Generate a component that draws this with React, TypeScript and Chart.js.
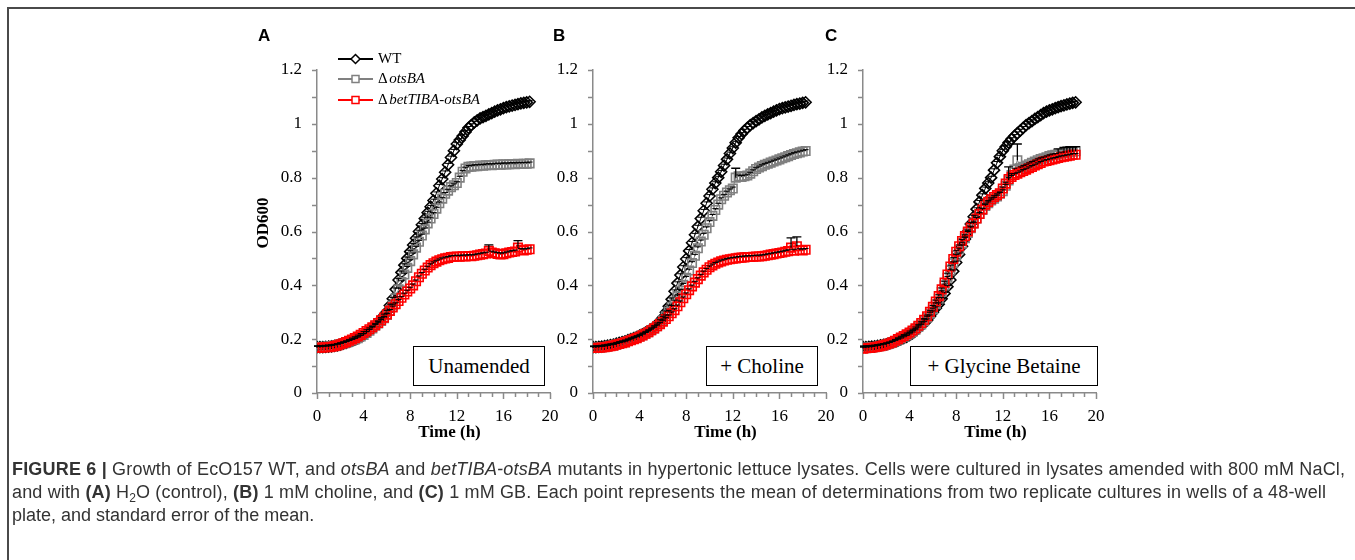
import React, { useEffect, useRef } from 'react';
import { Chart, registerables } from 'chart.js';

Chart.register(...registerables);

// ---------- DATA ----------
const hours = [
  0, 0.25, 0.5, 0.75, 1, 1.25, 1.5, 1.75, 2, 2.25, 2.5, 2.75, 3, 3.25, 3.5, 3.75,
  4, 4.25, 4.5, 4.75, 5, 5.25, 5.5, 5.75, 6, 6.25, 6.5, 6.75, 7, 7.25, 7.5, 7.75,
  8, 8.25, 8.5, 8.75, 9, 9.25, 9.5, 9.75, 10, 10.25, 10.5, 10.75, 11, 11.25, 11.5, 11.75,
  12, 12.25, 12.5, 12.75, 13, 13.25, 13.5, 13.75, 14, 14.25, 14.5, 14.75, 15, 15.25, 15.5, 15.75,
  16, 16.25, 16.5, 16.75, 17, 17.25, 17.5, 17.75, 18, 18.25,
];

const seriesNames = ['WT', 'ΔotsBA', 'ΔbetTIBA-otsBA'];

// Panel A – Unamended
const wtA = [
  0.170, 0.170, 0.170, 0.171, 0.172, 0.173, 0.175, 0.177, 0.180, 0.183, 0.186, 0.190,
  0.194, 0.198, 0.203, 0.209, 0.215, 0.223, 0.232, 0.242, 0.252, 0.263, 0.275, 0.288,
  0.302, 0.325, 0.350, 0.385, 0.420, 0.448, 0.475, 0.500, 0.525, 0.550, 0.575, 0.600,
  0.625, 0.648, 0.670, 0.692, 0.715, 0.742, 0.770, 0.795, 0.820, 0.848, 0.875, 0.900,
  0.925, 0.940, 0.955, 0.970, 0.985, 0.995, 1.005, 1.013, 1.020, 1.025, 1.030, 1.035,
  1.040, 1.045, 1.050, 1.054, 1.058, 1.062, 1.065, 1.068, 1.070, 1.073, 1.076, 1.078,
  1.080, 1.082,
];
const otsA = [
  0.170, 0.170, 0.171, 0.172, 0.173, 0.174, 0.176, 0.178, 0.181, 0.184, 0.187, 0.191,
  0.195, 0.199, 0.204, 0.210, 0.216, 0.223, 0.231, 0.240, 0.250, 0.258, 0.268, 0.278,
  0.290, 0.305, 0.325, 0.352, 0.385, 0.412, 0.440, 0.465, 0.490, 0.515, 0.540, 0.562,
  0.585, 0.608, 0.630, 0.648, 0.665, 0.685, 0.705, 0.722, 0.740, 0.752, 0.765, 0.772,
  0.780, 0.800, 0.822, 0.834, 0.840, 0.841, 0.843, 0.843, 0.845, 0.844, 0.846, 0.847,
  0.846, 0.848, 0.849, 0.848, 0.850, 0.849, 0.850, 0.851, 0.850, 0.852, 0.851, 0.852,
  0.852, 0.853,
];
const betA = [
  0.168, 0.168, 0.169, 0.170, 0.170, 0.172, 0.174, 0.177, 0.181, 0.185, 0.189, 0.194,
  0.199, 0.204, 0.210, 0.216, 0.223, 0.230, 0.237, 0.244, 0.252, 0.260, 0.270, 0.280,
  0.292, 0.305, 0.318, 0.330, 0.342, 0.354, 0.366, 0.377, 0.388, 0.400, 0.415, 0.430,
  0.443, 0.455, 0.466, 0.475, 0.482, 0.488, 0.493, 0.497, 0.500, 0.502, 0.505, 0.506,
  0.507, 0.506, 0.508, 0.507, 0.509, 0.508, 0.510, 0.512, 0.514, 0.516, 0.518, 0.528,
  0.522, 0.519, 0.517, 0.515, 0.516, 0.519, 0.522, 0.524, 0.526, 0.540, 0.532, 0.530,
  0.532, 0.534,
];

// Panel B – + Choline
const wtB = [
  0.170, 0.170, 0.171, 0.172, 0.174, 0.176, 0.178, 0.180, 0.183, 0.186, 0.189, 0.192,
  0.196, 0.200, 0.204, 0.208, 0.213, 0.218, 0.224, 0.230, 0.237, 0.245, 0.255, 0.267,
  0.280, 0.300, 0.322, 0.348, 0.378, 0.408, 0.438, 0.468, 0.498, 0.528, 0.558, 0.588,
  0.618, 0.648, 0.677, 0.705, 0.732, 0.757, 0.780, 0.800, 0.822, 0.845, 0.868, 0.890,
  0.910, 0.930, 0.948, 0.962, 0.975, 0.985, 0.995, 1.003, 1.010, 1.017, 1.024, 1.030,
  1.035, 1.040, 1.045, 1.050, 1.055, 1.058, 1.061, 1.064, 1.067, 1.070, 1.073, 1.075,
  1.078, 1.080,
];
const otsB = [
  0.168, 0.168, 0.169, 0.170, 0.171, 0.173, 0.175, 0.177, 0.180, 0.183, 0.186, 0.189,
  0.193, 0.197, 0.201, 0.205, 0.210, 0.215, 0.220, 0.226, 0.233, 0.240, 0.248, 0.258,
  0.270, 0.285, 0.302, 0.320, 0.340, 0.360, 0.380, 0.402, 0.428, 0.455, 0.483, 0.510,
  0.538, 0.563, 0.588, 0.612, 0.635, 0.658, 0.680, 0.700, 0.720, 0.733, 0.745, 0.753,
  0.760, 0.800, 0.805, 0.803, 0.805, 0.808, 0.815, 0.824, 0.832, 0.838, 0.843, 0.848,
  0.852, 0.856, 0.860, 0.864, 0.868, 0.872, 0.876, 0.880, 0.884, 0.888, 0.891, 0.894,
  0.897, 0.899,
];
const betB = [
  0.167, 0.167, 0.168, 0.169, 0.170, 0.172, 0.174, 0.176, 0.179, 0.182, 0.185, 0.188,
  0.192, 0.196, 0.200, 0.204, 0.209, 0.214, 0.220, 0.226, 0.233, 0.240, 0.248, 0.256,
  0.265, 0.275, 0.285, 0.296, 0.308, 0.322, 0.337, 0.352, 0.367, 0.382, 0.396, 0.410,
  0.423, 0.436, 0.448, 0.458, 0.467, 0.474, 0.480, 0.485, 0.489, 0.492, 0.495, 0.497,
  0.499, 0.500, 0.502, 0.503, 0.504, 0.505, 0.505, 0.506, 0.507, 0.507, 0.508, 0.510,
  0.512, 0.514, 0.516, 0.518, 0.520, 0.522, 0.525, 0.527, 0.540, 0.529, 0.545, 0.531,
  0.530, 0.532,
];

// Panel C – + Glycine Betaine
const wtC = [
  0.170, 0.170, 0.171, 0.172, 0.173, 0.175, 0.177, 0.179, 0.181, 0.184, 0.187, 0.191,
  0.195, 0.199, 0.204, 0.209, 0.215, 0.222, 0.230, 0.240, 0.250, 0.260, 0.270, 0.285,
  0.300, 0.315, 0.330, 0.350, 0.370, 0.395, 0.420, 0.452, 0.485, 0.515, 0.545, 0.572,
  0.600, 0.628, 0.655, 0.683, 0.710, 0.735, 0.760, 0.780, 0.800, 0.828, 0.855, 0.878,
  0.900, 0.915, 0.930, 0.943, 0.955, 0.965, 0.975, 0.985, 0.995, 1.003, 1.010, 1.018,
  1.025, 1.032, 1.040, 1.045, 1.050, 1.054, 1.058, 1.062, 1.066, 1.069, 1.072, 1.075,
  1.078, 1.080,
];
const otsC = [
  0.168, 0.168, 0.169, 0.170, 0.171, 0.173, 0.175, 0.177, 0.180, 0.183, 0.187, 0.192,
  0.198, 0.203, 0.209, 0.214, 0.220, 0.227, 0.235, 0.245, 0.255, 0.267, 0.280, 0.295,
  0.310, 0.330, 0.350, 0.375, 0.400, 0.428, 0.455, 0.482, 0.510, 0.533, 0.555, 0.575,
  0.595, 0.612, 0.630, 0.648, 0.665, 0.680, 0.695, 0.705, 0.715, 0.722, 0.730, 0.740,
  0.750, 0.770, 0.790, 0.810, 0.830, 0.865, 0.835, 0.840, 0.845, 0.850, 0.855, 0.860,
  0.865, 0.869, 0.872, 0.876, 0.880, 0.883, 0.885, 0.887, 0.890, 0.892, 0.893, 0.895,
  0.896, 0.898,
];
const betC = [
  0.165, 0.166, 0.167, 0.168, 0.170, 0.172, 0.174, 0.177, 0.180, 0.184, 0.188, 0.194,
  0.200, 0.206, 0.212, 0.218, 0.225, 0.232, 0.240, 0.250, 0.260, 0.272, 0.285, 0.302,
  0.320, 0.340, 0.360, 0.385, 0.410, 0.440, 0.470, 0.498, 0.525, 0.545, 0.565, 0.583,
  0.600, 0.615, 0.630, 0.648, 0.665, 0.682, 0.700, 0.710, 0.720, 0.728, 0.735, 0.742,
  0.760, 0.778, 0.795, 0.803, 0.810, 0.815, 0.820, 0.825, 0.830, 0.835, 0.840, 0.845,
  0.850, 0.855, 0.860, 0.862, 0.865, 0.868, 0.870, 0.873, 0.876, 0.878, 0.880, 0.882,
  0.885, 0.885,
];

// standard errors (upper bars) that stand out; others use the typical SE
const typicalSE = 0.005;
const errA = [
  { series: 'bet', t: 14.75, se: 0.022 },
  { series: 'bet', t: 17.25, se: 0.026 },
];
const errB = [
  { series: 'ots', t: 12.25, se: 0.035 },
  { series: 'bet', t: 17, se: 0.036 },
  { series: 'bet', t: 17.5, se: 0.035 },
];
const errC = [
  { series: 'ots', t: 12.5, se: 0.05 },
  { series: 'ots', t: 13.25, se: 0.06 },
  { series: 'ots', t: 16.75, se: 0.02 },
  { series: 'ots', t: 17.25, se: 0.02 },
  { series: 'ots', t: 17.5, se: 0.02 },
  { series: 'ots', t: 17.75, se: 0.02 },
  { series: 'ots', t: 18, se: 0.018 },
  { series: 'ots', t: 18.25, se: 0.017 },
];

// ---------- STYLE ----------
const BLACK = '#000000';
const GRAY = '#808080';
const RED = '#ff0000';
const AXIS = '#8a8a8a';
const SERIF = '"Liberation Serif", "Times New Roman", serif';
const SANS = '"Liberation Sans", Arial, sans-serif';

const panels = [
  { letter: 'A', left: 240, letterX: 258, wt: wtA, ots: otsA, bet: betA, errs: errA, note: 'Unamended', box: [413, 346, 132, 40], legend: true, yTitle: true },
  { letter: 'B', left: 516, letterX: 553, wt: wtB, ots: otsB, bet: betB, errs: errB, note: '+ Choline', box: [706, 346, 112, 40], legend: false, yTitle: false },
  { letter: 'C', left: 786, letterX: 825, wt: wtC, ots: otsC, bet: betC, errs: errC, note: '+ Glycine Betaine', box: [910, 346, 188, 40], legend: false, yTitle: false },
];

const CW = 320;
const CH = 420;
const CTOP = 40;

function drawMarker(ctx: CanvasRenderingContext2D, kind: number, x: number, y: number, color: string) {
  ctx.save();
  ctx.strokeStyle = color;
  ctx.lineWidth = 1.5;
  ctx.beginPath();
  if (kind === 0) {
    const r = 4.5;
    ctx.moveTo(x, y - r);
    ctx.lineTo(x + r, y);
    ctx.lineTo(x, y + r);
    ctx.lineTo(x - r, y);
    ctx.closePath();
  } else {
    const s = 3.5;
    ctx.rect(x - s, y - s, 2 * s, 2 * s);
  }
  ctx.fillStyle = '#fff';
  ctx.fill();
  ctx.stroke();
  ctx.restore();
}

function Panel({ def }: { def: any }) {
  const ref = useRef<HTMLCanvasElement>(null);
  useEffect(() => {
    const canvas = ref.current!;
    const series = [def.wt, def.ots, def.bet];
    const keys = ['wt', 'ots', 'bet'];
    const colors = [BLACK, GRAY, RED];
    const datasets = series.map((vals: number[], i: number) => ({
      label: seriesNames[i],
      data: hours.map((h, j) => ({ x: h, y: vals[j] })),
      borderColor: colors[i],
      borderWidth: 1,
      pointStyle: i === 0 ? 'rectRot' : 'rect',
      pointRadius: i === 0 ? 5.5 : 6,
      pointBorderWidth: 1.6,
      pointBorderColor: colors[i],
      pointBackgroundColor: 'rgba(0,0,0,0)',
      order: 2 - i,
      tension: 0,
    }));

    const decor = {
      id: 'decor',
      afterDatasetsDraw(chart: any) {
        const ctx = chart.ctx as CanvasRenderingContext2D;
        const sy = chart.scales.y;
        ctx.save();
        ctx.strokeStyle = '#000';
        series.forEach((vals: number[], i: number) => {
          const meta = chart.getDatasetMeta(i);
          meta.data.forEach((pt: any, j: number) => {
            const big = def.errs.find((e: any) => e.series === keys[i] && e.t === hours[j]);
            const se = big ? big.se : typicalSE;
            const yTop = sy.getPixelForValue(vals[j] + se);
            const half = big ? 4.5 : 3;
            ctx.beginPath();
            ctx.moveTo(pt.x, pt.y);
            ctx.lineTo(pt.x, yTop);
            ctx.moveTo(pt.x - half, yTop);
            ctx.lineTo(pt.x + half, yTop);
            ctx.lineWidth = big ? 1.3 : 1;
            ctx.stroke();
          });
        });
        ctx.restore();
      },
      afterDraw(chart: any) {
        const ctx = chart.ctx as CanvasRenderingContext2D;
        const sx = chart.scales.x;
        const sy = chart.scales.y;
        const area = chart.chartArea;
        ctx.save();
        // tick marks
        ctx.strokeStyle = AXIS;
        ctx.lineWidth = 1.5;
        for (let k = 0; k <= 12; k++) {
          const y = Math.round(sy.getPixelForValue(k / 10)) + 0.5;
          ctx.beginPath();
          ctx.moveTo(area.left - 5, y);
          ctx.lineTo(area.left, y);
          ctx.stroke();
        }
        for (let k = 0; k <= 20; k++) {
          const x = Math.round(sx.getPixelForValue(k)) + 0.5;
          const len = k % 4 === 0 ? 6 : 4;
          ctx.beginPath();
          ctx.moveTo(x, area.bottom);
          ctx.lineTo(x, area.bottom + len);
          ctx.stroke();
        }
        // axis titles
        ctx.fillStyle = '#000';
        ctx.font = 'bold 17px ' + SERIF;
        ctx.textAlign = 'center';
        ctx.textBaseline = 'middle';
        ctx.fillText('Time (h)', (area.left + area.right) / 2 + 16, 433 - CTOP);
        if (def.yTitle) {
          ctx.save();
          ctx.translate(24, 223 - CTOP);
          ctx.rotate(-Math.PI / 2);
          ctx.fillText('OD600', 0, 0);
          ctx.restore();
        }
        // legend
        if (def.legend) {
          const rows = [19, 39, 60];
          rows.forEach((y, i) => {
            ctx.strokeStyle = colors[i];
            ctx.lineWidth = 2;
            ctx.beginPath();
            ctx.moveTo(98, y);
            ctx.lineTo(133, y);
            ctx.stroke();
            drawMarker(ctx, i, 115.5, y, colors[i]);
            ctx.fillStyle = '#000';
            ctx.textAlign = 'left';
            ctx.textBaseline = 'middle';
            ctx.font = '15px ' + SERIF;
            if (i === 0) {
              ctx.fillText('WT', 138, y);
            } else {
              const name = seriesNames[i];
              const delta = name.slice(0, 1);
              const rest = name.slice(1);
              ctx.fillText(delta, 138, y);
              const w = ctx.measureText(delta).width;
              ctx.font = 'italic 15px ' + SERIF;
              ctx.fillText(rest, 138 + w + 1.5, y);
            }
          });
        }
        ctx.restore();
      },
    };

    const chart = new Chart(canvas, {
      type: 'line',
      data: { datasets } as any,
      options: {
        animation: false,
        responsive: false,
        devicePixelRatio: 1,
        layout: { padding: { left: 0, top: 30, right: 10, bottom: 0 } },
        plugins: { legend: { display: false }, tooltip: { enabled: false } },
        scales: {
          x: {
            type: 'linear',
            min: 0,
            max: 20,
            afterFit: (s: any) => {
              s.height = 67;
              s.paddingLeft = 0;
              s.paddingRight = 0;
            },
            ticks: {
              stepSize: 4,
              autoSkip: false,
              maxRotation: 0,
              padding: 8,
              color: '#000',
              font: { family: SERIF, size: 17 },
            },
            grid: { display: false, drawTicks: true, tickLength: 5 },
            border: { display: true, color: AXIS, width: 1.5 },
          },
          y: {
            type: 'linear',
            min: 0,
            max: 1.2,
            afterFit: (s: any) => {
              s.width = 77;
              s.paddingTop = 0;
              s.paddingBottom = 0;
            },
            ticks: {
              stepSize: 0.2,
              autoSkip: false,
              padding: 10,
              color: '#000',
              font: { family: SERIF, size: 17 },
              callback: (v: any) => String(+Number(v).toFixed(1)),
            },
            grid: { display: false, drawTicks: true, tickLength: 5 },
            border: { display: true, color: AXIS, width: 1.5 },
          },
        },
      } as any,
      plugins: [decor],
    });
    return () => chart.destroy();
  }, []);

  const [bl, bt, bw, bh] = def.box;
  return (
    <>
      <canvas
        ref={ref}
        width={CW}
        height={CH}
        style={{ position: 'absolute', left: def.left, top: CTOP, width: CW, height: CH }}
      />
      <div
        style={{
          position: 'absolute',
          left: def.letterX,
          top: 27,
          fontFamily: SANS,
          fontWeight: 'bold',
          fontSize: 17,
          lineHeight: '17px',
          color: '#000',
        }}
      >
        {def.letter}
      </div>
      <div
        style={{
          position: 'absolute',
          left: bl,
          top: bt,
          width: bw,
          height: bh,
          boxSizing: 'border-box',
          border: '1.5px solid #000',
          background: '#fff',
          display: 'flex',
          alignItems: 'center',
          justifyContent: 'center',
          fontFamily: SERIF,
          fontSize: 21,
          color: '#000',
          whiteSpace: 'nowrap',
        }}
      >
        {def.note}
      </div>
    </>
  );
}

export default function App() {
  return (
    <div style={{ position: 'absolute', left: 0, top: 0, width: 1355, height: 560, overflow: 'hidden', background: '#fff' }}>
      <div
        style={{
          position: 'absolute',
          left: 7,
          top: 7,
          width: 1348,
          height: 553,
          boxSizing: 'border-box',
          borderTop: '2px solid #4a4a4a',
          borderLeft: '2px solid #4a4a4a',
        }}
      />
      {panels.map((p) => (
        <Panel key={p.letter} def={p} />
      ))}
      <svg width={1355} height={100} style={{ position: 'absolute', left: 0, top: 450 }}>
        <g fontFamily={SANS} fontSize={18} fill="#333">
          <text x={12} y={25} textLength={1333} lengthAdjust="spacing">
            <tspan fontWeight="bold">{'FIGURE 6 | '}</tspan>
            <tspan>{'Growth of EcO157 WT, and '}</tspan>
            <tspan fontStyle="italic">{'otsBA'}</tspan>
            <tspan>{' and '}</tspan>
            <tspan fontStyle="italic">{'betTIBA-otsBA'}</tspan>
            <tspan>{' mutants in hypertonic lettuce lysates. Cells were cultured in lysates amended with 800 mM NaCl,'}</tspan>
          </text>
          <text x={12} y={48} textLength={1314} lengthAdjust="spacing">
            <tspan>{'and with '}</tspan>
            <tspan fontWeight="bold">{'(A)'}</tspan>
            <tspan>{' H'}</tspan>
            <tspan dy={4} fontSize={12}>{'2'}</tspan>
            <tspan dy={-4}>{'O (control), '}</tspan>
            <tspan fontWeight="bold">{'(B)'}</tspan>
            <tspan>{' 1 mM choline, and '}</tspan>
            <tspan fontWeight="bold">{'(C)'}</tspan>
            <tspan>{' 1 mM GB. Each point represents the mean of determinations from two replicate cultures in wells of a 48-well'}</tspan>
          </text>
          <text x={12} y={71}>
            {'plate, and standard error of the mean.'}
          </text>
        </g>
      </svg>
    </div>
  );
}
